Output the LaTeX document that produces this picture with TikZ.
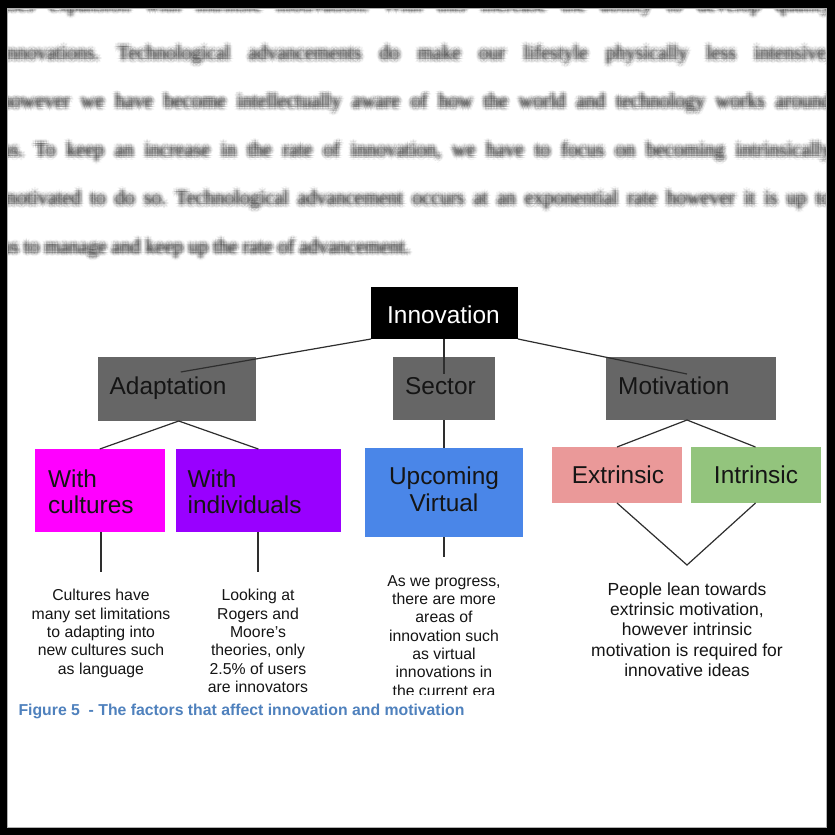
\documentclass[tikz,border=0pt]{standalone}
\usepackage{fontspec}
\setmainfont{Liberation Sans}
\newfontfamily\serifbody{Liberation Serif}
\usetikzlibrary{calc}

\definecolor{boxgray}{HTML}{666666}
\definecolor{cultmag}{HTML}{FF00FF}
\definecolor{indivpurple}{HTML}{9900FF}
\definecolor{virtblue}{HTML}{4A86E8}
\definecolor{extpink}{HTML}{EA9999}
\definecolor{intgreen}{HTML}{93C47D}
\definecolor{captionblue}{HTML}{4F81BD}
\definecolor{linkgray}{HTML}{2E2E2E}
\definecolor{inkdark}{HTML}{151515}

% one justified line of the body paragraph, and its unjustified last line
\newcommand\jline[1]{\hbox to 830pt{\spaceskip=0.25em plus 1fil minus 0.12em\relax #1}}
\newcommand\lastline[1]{\hbox to 830pt{#1\hss}}
\newcommand\bodyparagraph{\vbox{\serifbody\frenchspacing\fontsize{20}{48.4}\selectfont
  \jline{ases expansion with intrinsic motivation. With this increase the ability to develop quality}
  \jline{innovations. Technological advancements do make our lifestyle physically less intensive,}
  \jline{however we have become intellectually aware of how the world and technology works around}
  \jline{us. To keep an increase in the rate of innovation, we have to focus on becoming intrinsically}
  \jline{motivated to do so. Technological advancement occurs at an exponential rate however it is up to}
  \lastline{us to manage and keep up the rate of advancement.}}}

\begin{document}
\begin{tikzpicture}[x=1pt,y=-1pt,
  box/.style={rectangle, inner sep=0pt, outer sep=0pt},
  lbl/.style={inner sep=0pt, text=inkdark, font=\fontsize{24.4}{26.5}\selectfont},
  note/.style={inner sep=0pt, align=center, text=inkdark, font=\fontsize{15.8}{18.33}\selectfont},
  bignote/.style={inner sep=0pt, align=center, text=inkdark, font=\fontsize{17.5}{20.4}\selectfont},
  link/.style={draw=linkgray, line width=1.2pt}]

\useasboundingbox (0,0) rectangle (835,835);
\fill[white] (0,0) rectangle (835,835);

% softened body text above the figure: stacked faint copies
\begin{scope}
  \clip (7,8) rectangle (827,828);
  \foreach \dx/\dy/\op [count=\k] in {
      0/0/0.14,
      1.3/0/0.11, -1.3/0/0.11, 0/1.3/0.11, 0/-1.3/0.11,
      2.6/0/0.08, -2.6/0/0.08, 0/2.6/0.08, 0/-2.6/0.08,
      1.84/1.84/0.08, -1.84/1.84/0.08, 1.84/-1.84/0.08, -1.84/-1.84/0.08,
      3.8/0/0.05, -3.8/0/0.05, 0/3.8/0.05, 0/-3.8/0.05,
      2.7/2.7/0.05, -2.7/2.7/0.05, 2.7/-2.7/0.05, -2.7/-2.7/0.05}
    \node[inner sep=0pt, anchor=base west, text opacity=\op] (para\k) at (1+\dx,253+\dy) {\bodyparagraph};
\end{scope}

% boxes
\node[box, fill=black, minimum width=147pt, minimum height=52pt] (innov) at (444.5,313) {};
\node[box, fill=boxgray, minimum width=158.5pt, minimum height=64pt] (adapt) at (176.75,389) {};
\node[box, fill=boxgray, minimum width=102pt, minimum height=63pt] (sector) at (444,388.5) {};
\node[box, fill=boxgray, minimum width=170pt, minimum height=63pt] (motiv) at (691,388.5) {};
\node[box, fill=cultmag, minimum width=130.4pt, minimum height=83pt] (cult) at (99.8,490.5) {};
\node[box, fill=indivpurple, minimum width=165.3pt, minimum height=83pt] (indiv) at (258.35,490.5) {};
\node[box, fill=virtblue, minimum width=158pt, minimum height=89pt] (virt) at (444,492.5) {};
\node[box, fill=extpink, minimum width=130pt, minimum height=56pt] (extr) at (617,475) {};
\node[box, fill=intgreen, minimum width=130pt, minimum height=56pt] (intr) at (755.5,475) {};

% connectors
\draw[link] (innov.south west) -- ([shift={(4,15)}]adapt.north);
\draw[link] (sector.north |- innov.south) -- ([shift={(0,17)}]sector.north);
\draw[link] (innov.south east) -- ([shift={(-4,17)}]motiv.north);
\draw[link] ([shift={(2,0)}]adapt.south) -- (cult.north);
\draw[link] ([shift={(2,0)}]adapt.south) -- (indiv.north);
\draw[link] (sector.south) -- (virt.north);
\draw[link] ([shift={(-4,0)}]motiv.south) -- (extr.north);
\draw[link] ([shift={(-4,0)}]motiv.south) -- (intr.north);
\coordinate (vtip) at (687,565);
\draw[link] (extr.south) -- (vtip) -- (intr.south);
\coordinate (cdrop) at (101,572);
\coordinate (idrop) at (258,572);
\coordinate (vdrop) at (444,557);
\draw[link] (cdrop |- cult.south) -- (cdrop);
\draw[link] (idrop |- indiv.south) -- (idrop);
\draw[link] (virt.south) -- (vdrop);

% box labels
\node[lbl, text=white, anchor=base] (innovt) at (443.5,323) {Innovation};
\node[lbl, anchor=base west] (adaptt) at (109.5,394) {Adaptation};
\node[lbl, anchor=base west] (sectort) at (405,394) {Sector};
\node[lbl, anchor=base west] (motivt) at (618,394) {Motivation};
\node[lbl, align=left, anchor=north west] (cultt) at (48,469.5) {With\\cultures};
\node[lbl, align=left, anchor=north west] (indivt) at (187.5,469.5) {With\\individuals};
\node[lbl, align=center, anchor=north] (virtt) at (444,467) {Upcoming\\Virtual};
\node[lbl, anchor=base] (extrt) at (618,483) {Extrinsic};
\node[lbl, anchor=base] (intrt) at (756,483) {Intrinsic};

% explanations under the boxes
\node[note, anchor=north] (cnote) at (101,589.2) {Cultures have\\many set limitations\\to adapting into\\new cultures such\\as language};
\node[note, anchor=north] (inote) at (258,589.2) {Looking at\\Rogers and\\Moore’s\\theories, only\\2.5\% of users\\are innovators};
\begin{scope}
  \clip (340,560) rectangle (550,694);
  \node[note, anchor=north] (vnote) at (444,575.2) {As we progress,\\there are more\\areas of\\innovation such\\as virtual\\innovations in\\the current era};
\end{scope}
\node[bignote, anchor=north] (pnote) at (687,582.2) {People lean towards\\extrinsic motivation,\\however intrinsic\\motivation is required for\\innovative ideas};

% caption
\node[inner sep=0pt, anchor=base west, text=captionblue, font=\fontsize{15.8}{18}\selectfont\bfseries] (caption) at (18.3,715.5) {Figure 5 \ - The factors that affect innovation and motivation};

% frame
\fill[black, even odd rule] (0,0) rectangle (835,835) (7,8) rectangle (827,828);
\draw[gray!60, line width=0.8pt] (7.4,8.4) rectangle (826.6,827.6);
\end{tikzpicture}
\end{document}
